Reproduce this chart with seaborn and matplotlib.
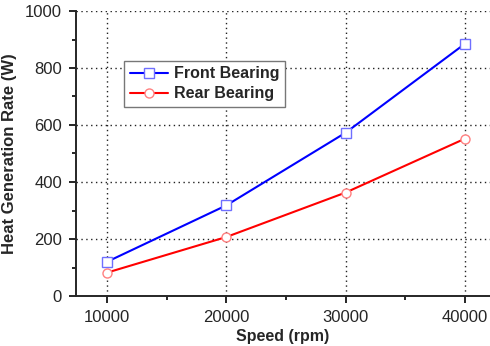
import matplotlib
matplotlib.use("Agg")
import matplotlib.pyplot as plt
from matplotlib.ticker import MultipleLocator
import pandas as pd
import seaborn as sns

SPEED = [10000, 20000, 30000, 40000]
FRONT = [120, 318, 573, 885]
REAR = [82, 207, 363, 552]

sns.set_style("ticks")
plt.rcParams["font.family"] = ["Liberation Sans", "DejaVu Sans"]

fig = plt.figure(figsize=(4.9, 3.46), dpi=100)
ax = fig.add_axes([76 / 490, 50 / 346, 414 / 490, 285 / 346])

series = [
    ("Front Bearing", FRONT, "#0000ff", "#6f6fff", "s"),
    ("Rear Bearing", REAR, "#ff0000", "#ff8080", "o"),
]
for name, values, color, edge, marker in series:
    df = pd.DataFrame({"speed": SPEED, "rate": values})
    sns.lineplot(data=df, x="speed", y="rate", ax=ax, color=color, lw=1.5,
                 marker=marker, markersize=6.5, markerfacecolor="white",
                 markeredgecolor=edge, markeredgewidth=1.0, label=name)

ax.set_xlim(7400, 42100)
ax.set_ylim(0, 1000)
ax.xaxis.set_major_locator(MultipleLocator(10000))
ax.xaxis.set_minor_locator(MultipleLocator(5000))
ax.yaxis.set_major_locator(MultipleLocator(200))
ax.yaxis.set_minor_locator(MultipleLocator(100))
ax.grid(True, which="major", linestyle=(0, (1, 2.5)), color="#222222", lw=1.0)
sns.despine(ax=ax)
for s in ("left", "bottom"):
    ax.spines[s].set_linewidth(1.4)
ax.tick_params(which="major", length=5, width=1.4, labelsize=12, direction="out", pad=5)
ax.tick_params(which="minor", length=3, width=1.4, direction="out")

ax.set_xlabel("Speed (rpm)", fontsize=11.5, fontweight="bold", labelpad=3)
ax.set_ylabel("Heat Generation Rate (W)", fontsize=12, fontweight="bold", labelpad=6)

leg = ax.legend(loc="upper left", bbox_to_anchor=(0.116, 0.825), borderaxespad=0,
                fancybox=False, framealpha=1, edgecolor="#777777",
                prop={"weight": "bold", "size": 11.5},
                handlelength=2.4, borderpad=0.35, labelspacing=0.3, handletextpad=0.4)
leg.get_frame().set_linewidth(1.0)

fig.savefig("out.png", dpi=100)
